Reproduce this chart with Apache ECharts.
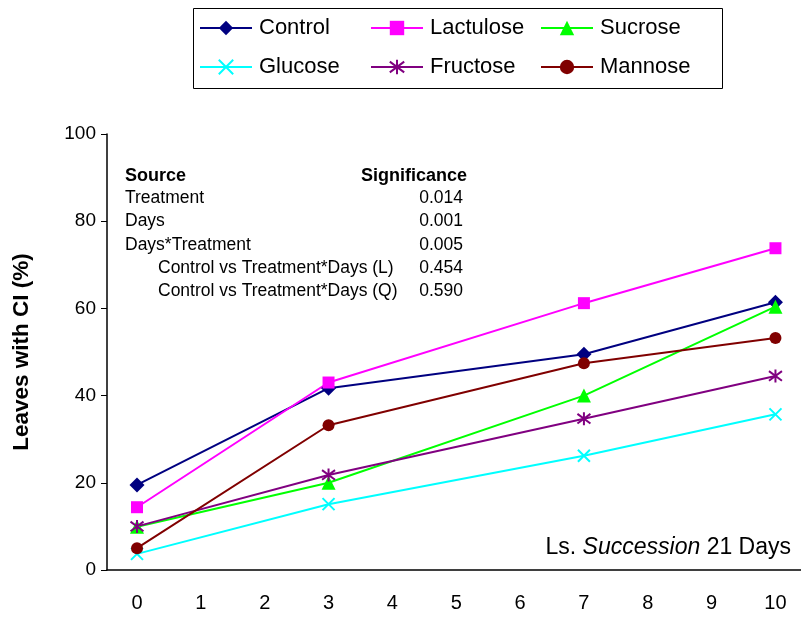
<!DOCTYPE html>
<html>
<head>
<meta charset="utf-8">
<style>
html,body{margin:0;padding:0;background:#fff;}
#chart{width:801px;height:619px;}
</style>
<script src="https://cdn.jsdelivr.net/npm/echarts@6/dist/echarts.min.js"></script>
</head>
<body>
<div id="chart"></div>
<script>
// ---- data ----
var days = [0, 3, 7, 10];
var xTickLabels = [0, 1, 2, 3, 4, 5, 6, 7, 8, 9, 10];
var yTickLabels = [0, 20, 40, 60, 80, 100];
var seriesNames = ['Control', 'Lactulose', 'Sucrose', 'Glucose', 'Fructose', 'Mannose'];
var control   = [19.5, 41.7, 49.5, 61.4];
var lactulose = [14.4, 43.0, 61.2, 73.8];
var sucrose   = [9.9, 20.0, 40.0, 60.4];
var glucose   = [3.7, 15.1, 26.2, 35.7];
var fructose  = [10.0, 21.8, 34.7, 44.5];
var mannose   = [5.0, 33.2, 47.4, 53.2];
var statsRows = ['Treatment', 'Days', 'Days*Treatment', '   Control vs Treatment*Days (L)', '   Control vs Treatment*Days (Q)'];
var statsVals = ['0.014', '0.001', '0.005', '0.454', '0.590'];

var FONT = '"Liberation Sans", Arial, sans-serif';
function pairs(vals){ return days.map(function(d,i){ return [d, vals[i]]; }); }

var crossPath = 'path://M0,0L10,10M10,0L0,10';
var starPath = 'path://M0,1.3L10,8.7M10,1.3L0,8.7M5,0L5,10';

function mk(name, vals, color, symbol, size, strokeOnly){
  return {
    name: name, type: 'line', data: pairs(vals),
    symbol: symbol, symbolSize: size,
    lineStyle: {color: color, width: 2},
    itemStyle: strokeOnly ? {color: 'rgba(0,0,0,0)', borderColor: color, borderWidth: 2} : {color: color, borderWidth: 0},
    emphasis: {disabled: true},
    animation: false
  };
}

var series = [
  mk(seriesNames[0], control, '#000080', 'diamond', 15, false),
  mk(seriesNames[1], lactulose, '#FF00FF', 'rect', 12, false),
  mk(seriesNames[2], sucrose, '#00FF00', 'triangle', 14, false),
  mk(seriesNames[3], glucose, '#00FFFF', crossPath, 12, true),
  mk(seriesNames[4], fructose, '#800080', starPath, 13, true),
  mk(seriesNames[5], mannose, '#800000', 'circle', 12, false)
];

var legendBase = {
  orient: 'vertical', top: 12, itemWidth: 52, itemHeight: 18, itemGap: 17,
  textStyle: {fontFamily: FONT, fontSize: 22, color: '#000', padding: [0,0,0,2]},
  selectedMode: false
};
var legends = [
  Object.assign({}, legendBase, {left: 194, data: [seriesNames[0], seriesNames[3]]}),
  Object.assign({}, legendBase, {left: 365, data: [seriesNames[1], seriesNames[4]]}),
  Object.assign({}, legendBase, {left: 535, data: [seriesNames[2], seriesNames[5]]})
];

var graphics = [
  {type: 'rect', shape: {x: 193.5, y: 8.5, width: 529, height: 80}, style: {fill: 'none', stroke: '#000', lineWidth: 1}, z: -1},
  {type: 'text', left: 125, top: 167, style: {text: 'Source', font: 'bold 18px ' + FONT, fill: '#000'}},
  {type: 'text', right: 801 - 467, top: 167, style: {text: 'Significance', font: 'bold 18px ' + FONT, fill: '#000', textAlign: 'right'}},
  {type: 'text', right: 801 - 791, top: 536, style: {
    text: '{n|Ls. }{i|Succession}{n| 21 Days}', textAlign: 'right',
    rich: {n: {fontFamily: FONT, fontSize: 23, fill: '#000'}, i: {fontFamily: FONT, fontSize: 23, fontStyle: 'italic', fill: '#000'}}
  }}
];
statsRows.forEach(function(r, i){
  var indent = r.indexOf('   ') === 0;
  graphics.push({type: 'text', left: indent ? 158 : 125, top: 189 + i * 23.4,
    style: {text: r.trim(), font: '17.5px ' + FONT, fill: '#000'}});
  graphics.push({type: 'text', right: 801 - 463, top: 189 + i * 23.4,
    style: {text: statsVals[i], font: '17.5px ' + FONT, fill: '#000', textAlign: 'right'}});
});

var chart = echarts.init(document.getElementById('chart'), null, {renderer: 'canvas'});
chart.setOption({
  animation: false,
  backgroundColor: '#fff',
  grid: {left: 107, top: 134, right: 0, bottom: 49, containLabel: false},
  legend: legends,
  xAxis: {
    type: 'value', min: -0.47, max: 10.4,
    axisLine: {show: true, onZero: false, lineStyle: {color: '#000', width: 1.5}},
    axisTick: {show: false},
    splitLine: {show: false},
    axisLabel: {customValues: xTickLabels, fontFamily: FONT, fontSize: 20, color: '#000', margin: 23}
  },
  yAxis: {
    type: 'value', min: 0, max: 100, interval: 20,
    name: 'Leaves with CI (%)', nameLocation: 'middle', nameGap: 74, nameRotate: 90,
    nameTextStyle: {fontFamily: FONT, fontSize: 22.5, fontWeight: 'bold', color: '#000'},
    axisLine: {show: true, onZero: false, lineStyle: {color: '#000', width: 1.5}},
    axisTick: {show: true, inside: false, length: 6, lineStyle: {color: '#000'}},
    splitLine: {show: false},
    axisLabel: {customValues: yTickLabels, fontFamily: FONT, fontSize: 19, color: '#000', margin: 11}
  },
  graphic: graphics,
  series: series
});
</script>
</body>
</html>
